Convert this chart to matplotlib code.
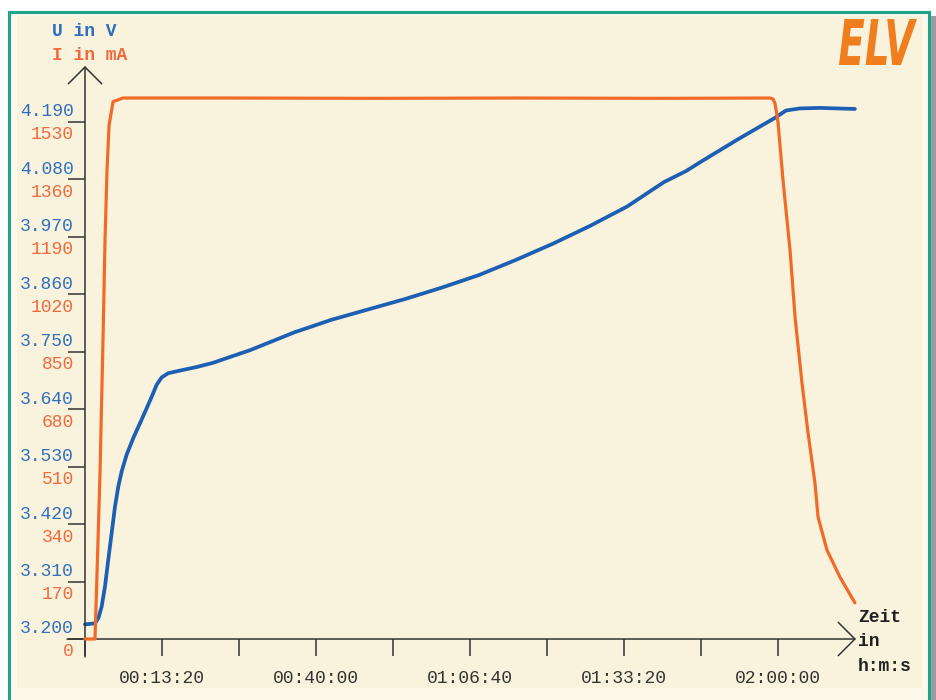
import numpy as np
import matplotlib
matplotlib.use("Agg")
import matplotlib.pyplot as plt
from matplotlib.patches import Rectangle, PathPatch
from matplotlib.textpath import TextPath
from matplotlib.font_manager import FontProperties
from matplotlib.transforms import Affine2D, offset_copy

# Spannung U (V) ueber Zeit (s)
t_u = [0, 104, 139, 173, 208, 242, 277, 312, 346, 381, 433, 502, 571, 641, 693,
       745, 797, 866, 987, 1164, 1333, 1506, 1714, 2172, 2556, 2940, 3325, 3709,
       4094, 4478, 4862, 5247, 5631, 6016, 6244, 6400, 6785, 7169, 7283, 7429,
       7636, 7999]
u = [3.228, 3.230, 3.240, 3.262, 3.301, 3.352, 3.403, 3.454, 3.492, 3.521,
     3.553, 3.585, 3.613, 3.642, 3.664, 3.687, 3.701, 3.709, 3.714, 3.721,
     3.729, 3.740, 3.753, 3.787, 3.811, 3.831, 3.851, 3.873, 3.897, 3.926,
     3.957, 3.991, 4.028, 4.075, 4.096, 4.114, 4.157, 4.198, 4.212, 4.216,
     4.217, 4.215]

# Strom I (mA) ueber Zeit (s)
t_i = [0, 104, 125, 156, 187, 208, 229, 250, 291, 395, 1500, 3000, 4500, 6000,
       7117, 7148, 7169, 7200, 7252, 7304, 7325, 7377, 7449, 7512, 7584, 7616,
       7709, 7844, 7999]
i_ma = [0, 0, 195, 491, 885, 1180, 1390, 1520, 1590, 1601, 1601, 1600, 1601,
        1600, 1601, 1598, 1585, 1530, 1358, 1210, 1151, 953, 758, 610, 462, 361,
        263, 183, 107]

u_ticks = [3.200, 3.310, 3.420, 3.530, 3.640, 3.750, 3.860, 3.970, 4.080, 4.190]
i_ticks = [0, 170, 340, 510, 680, 850, 1020, 1190, 1360, 1530]
x_ticks = [0, 800, 1600, 2400, 3200, 4000, 4800, 5600, 6400, 7200]
x_labels = ["", "00:13:20", "", "00:40:00", "", "01:06:40", "",
            "01:33:20", "", "02:00:00"]

W, H = 937, 700
BLUE = "#1c5fb3"
ORANGE = "#f26a28"
BLUE_TXT = "#2f6fbd"
ORANGE_TXT = "#f2693a"
AX_COL = "#333333"
MONO = "Liberation Mono"

# geometry in pixels (from top)
x0, y0 = 85, 639      # origin
x1, y1 = 856, 66      # arrow tips
px_x = 77 / 800       # px per second
px_y = 517 / 9        # px per tick step

fig = plt.figure(figsize=(W / 100, H / 100), dpi=100)
fig.patch.set_facecolor("white")

def px_rect(xa, ya, xb, yb, **kw):
    return Rectangle((xa / W, 1 - yb / H), (xb - xa) / W, (yb - ya) / H,
                     transform=fig.transFigure, zorder=-5, **kw)

fig.patches.append(px_rect(14, 16, 937, 705, facecolor="#9c9c9c", lw=0))
fig.patches.append(px_rect(9.5, 11.5, 929.5, 705, facecolor="#fcf8ea",
                           edgecolor="#1ea58c", lw=2.2))
fig.patches.append(px_rect(17, 16, 922, 688, facecolor="#f9f3dd", lw=0))

ax = fig.add_axes([x0 / W, 1 - y0 / H, (x1 - x0) / W, (y0 - y1) / H])
ax.set_facecolor("none")
ax.set_xlim(0, (x1 - x0) / px_x)
ax.set_ylim(3.2, 3.2 + (y0 - y1) / px_y * 0.11)
ax2 = ax.twinx()
ax2.set_ylim(0, (y0 - y1) / px_y * 170)

for a in (ax, ax2):
    for s in a.spines.values():
        s.set_visible(False)

ax.plot(t_u, u, color=BLUE, lw=2.7, solid_capstyle="round",
        solid_joinstyle="round", clip_on=False)
ax2.plot(t_i, i_ma, color=ORANGE, lw=2.3, solid_capstyle="round",
         solid_joinstyle="round", clip_on=False)

ax.set_xticks(x_ticks, x_labels)
ax.set_yticks(u_ticks, [""] * len(u_ticks))
ax2.set_yticks([])
ax.tick_params(axis="both", direction="out", length=12.2, width=1.1,
               color=AX_COL)
ax.tick_params(axis="x", pad=10, labelcolor=AX_COL, labelsize=13)
for lb in ax.get_xticklabels():
    lb.set_family(MONO)

# zweizeilige Y-Beschriftung
tr_u = offset_copy(ax.get_yaxis_transform(), fig=fig, x=-11, y=10, units="dots")
tr_i = offset_copy(ax2.get_yaxis_transform(), fig=fig, x=-11, y=-13, units="dots")
for v in u_ticks:
    ax.text(0, v, f"{v:.3f}", transform=tr_u, ha="right", va="center",
            color=BLUE_TXT, fontsize=13, family=MONO)
for c in i_ticks:
    ax2.text(0, c, f"{c}", transform=tr_i, ha="right", va="center",
             color=ORANGE_TXT, fontsize=13, family=MONO)

# Achsen mit Pfeilen
arrow = dict(arrowstyle="->,head_length=1.2,head_width=1.2", mutation_scale=10,
             lw=1.1, color=AX_COL, shrinkA=0, shrinkB=0)
ax.annotate("", xy=(1, 0), xycoords="axes fraction",
            xytext=(-(x1 - 67), 0), textcoords="offset pixels",
            arrowprops=arrow, annotation_clip=False)
ax.annotate("", xy=(0, 1), xycoords="axes fraction",
            xytext=(0, -(657 - y1)), textcoords="offset pixels",
            arrowprops=arrow, annotation_clip=False)

fig.text(52 / W, 1 - 32 / H, "U in V", color=BLUE_TXT, fontsize=13,
         family=MONO, weight="bold", va="center")
fig.text(52 / W, 1 - 55 / H, "I in mA", color=ORANGE_TXT, fontsize=13,
         family=MONO, weight="bold", va="center")
fig.text(858 / W, 1 - 642 / H, "Zeit\nin\nh:m:s", color="#222222", fontsize=13,
         family=MONO, weight="bold", va="center", ha="left", linespacing=1.6)

# Logo
tp = TextPath((0, 0), "ELV", size=1,
              prop=FontProperties(family="DejaVu Sans", weight="bold", style="italic"))
ext = tp.get_extents()
logo_tr = (Affine2D().translate(-ext.x0, -ext.y0)
           .scale(78 / ext.width, 46 / ext.height)
           .translate(839, H - 65).scale(1 / W, 1 / H) + fig.transFigure)
fig.patches.append(PathPatch(tp, transform=logo_tr, facecolor="#f07d1e", lw=0))

fig.savefig("out.png", dpi=100)
